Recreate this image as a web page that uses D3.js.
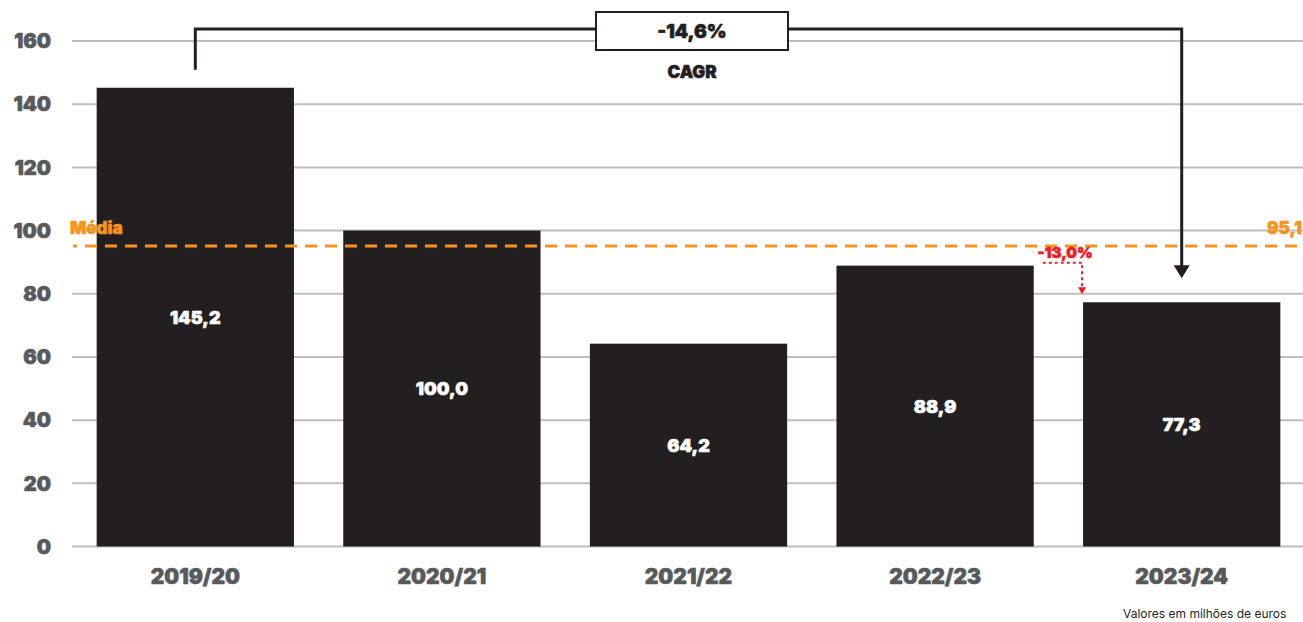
<!DOCTYPE html>
<meta charset='utf-8'>
<script src="https://d3js.org/d3.v7.min.js"></script>
<style>
	body { margin: 0; background: #fff; }
	svg { display: block; font-family: "Inter", "Lato", sans-serif; }
	.heavy { font-weight: 900; stroke-width: 0.6px; stroke-linejoin: round; }
	.grid line { stroke: #bcbec0; stroke-width: 2px; }
	.ytick { fill: #58595b; stroke: #58595b; font-size: 20px; }
	.xlab { fill: #58595b; stroke: #58595b; font-size: 21px; }
	.bar { fill: #231f20; }
	.val { fill: #fff; stroke: #fff; font-size: 18px; }
	.mean { stroke: #f7941d; stroke-width: 3px; stroke-dasharray: 12 8; }
	.meanlab { fill: #f7941d; stroke: #f7941d; font-size: 17px; }
</style>
<div id="chart"></div>
<script>
	var categories = ["2019/20", "2020/21", "2021/22", "2022/23", "2023/24"];
	var values = [145.2, 100.0, 64.2, 88.9, 77.3];
	var yTicks = [0, 20, 40, 60, 80, 100, 120, 140, 160];
	var meanValue = 95.1;
	var cagrLabel = "-14,6%";
	var lastChangeLabel = "-13,0%";

	var width = 1303, height = 622;
	var svg = d3.select("#chart").append("svg")
		.attr("width", width)
		.attr("height", height);

	var pt = d3.formatLocale({decimal: ",", thousands: ".", grouping: [3], currency: ["", "€"]});
	var fmt = pt.format(".1f");

	var x = d3.scaleBand()
		.domain(categories)
		.range([72, 1305])
		.paddingInner(0.2)
		.paddingOuter(0.1);
	var y = d3.scaleLinear()
		.domain([0, 160])
		.range([546.5, 41]);

	// gridlines
	svg.append("g").attr("class", "grid")
		.selectAll("line")
		.data(yTicks)
		.enter().append("line")
		.attr("x1", 72).attr("x2", width)
		.attr("y1", d => y(d)).attr("y2", d => y(d));

	svg.append("g")
		.selectAll("text")
		.data(yTicks)
		.enter().append("text")
		.attr("class", "ytick heavy")
		.attr("x", 51)
		.attr("y", d => y(d))
		.attr("dy", "0.36em")
		.attr("text-anchor", "end")
		.text(d => d);

	// bars
	svg.append("g")
		.selectAll("rect")
		.data(values)
		.enter().append("rect")
		.attr("class", "bar")
		.attr("x", (d, i) => x(categories[i]))
		.attr("width", x.bandwidth())
		.attr("y", d => y(d))
		.attr("height", d => y(0) - y(d));

	svg.append("g")
		.selectAll("text")
		.data(values)
		.enter().append("text")
		.attr("class", "val heavy")
		.attr("x", (d, i) => x(categories[i]) + x.bandwidth() / 2)
		.attr("y", d => (y(d) + y(0)) / 2)
		.attr("dy", "0.36em")
		.attr("text-anchor", "middle")
		.text(d => fmt(d));

	svg.append("g")
		.selectAll("text")
		.data(categories)
		.enter().append("text")
		.attr("class", "xlab heavy")
		.attr("x", d => x(d) + x.bandwidth() / 2)
		.attr("y", 584)
		.attr("text-anchor", "middle")
		.text(d => d);

	// average line
	var ym = y(meanValue);
	svg.append("line")
		.attr("class", "mean")
		.attr("x1", 73).attr("x2", width)
		.attr("y1", ym).attr("y2", ym)
		.attr("stroke-dashoffset", 8);
	svg.append("text")
		.attr("class", "meanlab heavy")
		.attr("x", 70).attr("y", ym - 12)
		.text("Média");
	svg.append("text")
		.attr("class", "meanlab heavy")
		.attr("x", 1302).attr("y", ym - 12)
		.attr("text-anchor", "end")
		.text(fmt(meanValue));

	// CAGR bracket
	var xa = x(categories[0]) + x.bandwidth() / 2,
		xb = x(categories[4]) + x.bandwidth() / 2,
		yTop = 29,
		tipY = y(values[4]) - 24;
	svg.append("path")
		.attr("d", "M" + xa + "," + (y(values[0]) - 18) + "V" + yTop + "H" + xb + "V" + (tipY - 12))
		.attr("fill", "none")
		.attr("stroke", "#231f20")
		.attr("stroke-width", 3);
	svg.append("path")
		.attr("d", "M" + (xb - 8) + "," + (tipY - 13) + "L" + (xb + 8) + "," + (tipY - 13) + "L" + xb + "," + tipY + "Z")
		.attr("fill", "#231f20");
	var boxCx = 692;
	svg.append("rect")
		.attr("x", boxCx - 96).attr("y", 12)
		.attr("width", 192).attr("height", 38)
		.attr("fill", "#fff")
		.attr("stroke", "#231f20")
		.attr("stroke-width", 2);
	svg.append("text")
		.attr("class", "heavy")
		.attr("x", boxCx).attr("y", 31)
		.attr("dy", "0.36em")
		.attr("text-anchor", "middle")
		.attr("fill", "#231f20").attr("stroke", "#231f20")
		.style("font-size", "19px")
		.text(cagrLabel);
	svg.append("text")
		.attr("class", "heavy")
		.attr("x", boxCx).attr("y", 72)
		.attr("dy", "0.36em")
		.attr("text-anchor", "middle")
		.attr("fill", "#231f20").attr("stroke", "#231f20")
		.style("font-size", "17px")
		.text("CAGR");

	// last year change
	var red = "#ed1c24";
	var x4r = x(categories[3]) + x.bandwidth(),
		x5l = x(categories[4]),
		yc = y(values[3]) - 3,
		tip2 = y(values[4]) - 8;
	svg.append("path")
		.attr("d", "M" + (x4r + 9) + "," + yc + "H" + (x5l - 1) + "V" + (tip2 - 6))
		.attr("fill", "none")
		.attr("stroke", red)
		.attr("stroke-width", 2)
		.attr("stroke-dasharray", "3 3");
	svg.append("path")
		.attr("d", "M" + (x5l - 5) + "," + (tip2 - 7) + "L" + (x5l + 3) + "," + (tip2 - 7) + "L" + (x5l - 1) + "," + tip2 + "Z")
		.attr("fill", red);
	svg.append("text")
		.attr("class", "heavy")
		.attr("x", x5l - 18).attr("y", yc - 5)
		.attr("text-anchor", "middle")
		.attr("fill", red).attr("stroke", red)
		.style("font-size", "15px")
		.text(lastChangeLabel);

	svg.append("text")
		.attr("x", 1123).attr("y", 618)
		.attr("fill", "#231f20")
		.style("font-size", "12px")
		.text("Valores em milhões de euros");
</script>
